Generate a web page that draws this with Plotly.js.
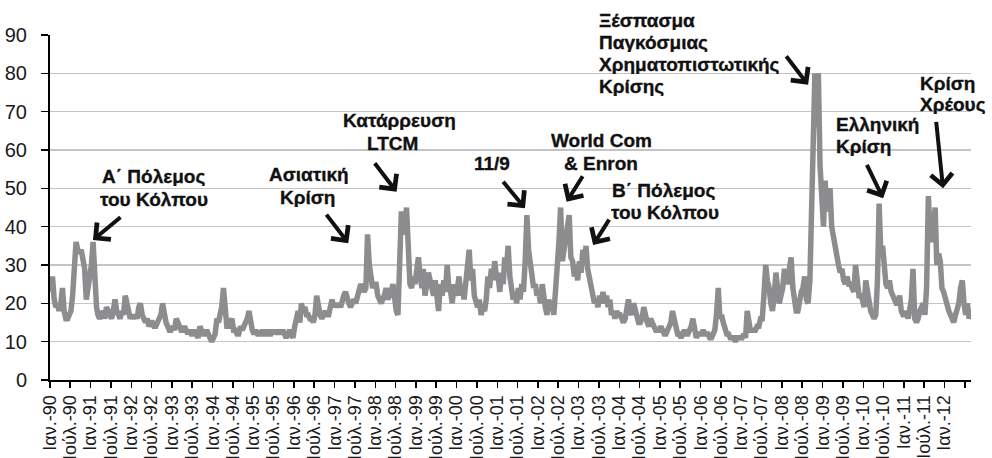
<!DOCTYPE html>
<html>
<head>
<meta charset="utf-8">
<script src="https://cdn.plot.ly/plotly-3.0.1.min.js"></script>
<style>
html,body{margin:0;padding:0;background:#fff;}
#chart{width:992px;height:458px;}
#chart .annotation-text{stroke:#111;stroke-width:0.35px;}
</style>
</head>
<body>
<div id="chart"></div>
<script>
// Semi-monthly readings (approx. 8th and 23rd of each month)
const vix1990 = [23, 27, 21, 19, 20, 18, 20, 24, 18, 16, 16, 17, 18, 22, 33, 36, 34, 33, 34, 31, 29, 21, 24, 26];
const vix1991 = [30, 36, 24, 19, 17, 16, 17, 18, 16, 19, 18, 17, 16, 18, 21, 18, 17, 16, 18, 17, 22, 20, 17, 16];
const vix1992 = [17, 16, 17, 16, 19, 20, 17, 16, 15, 16, 14, 15, 15, 14, 14, 15, 16, 17, 20, 17, 15, 14, 13, 13];
const vix1993 = [14, 13, 16, 15, 14, 13, 13, 14, 13, 12, 13, 12, 12, 13, 12, 11, 14, 13, 12, 12, 13, 12, 11, 10];
const vix1994 = [11, 12, 16, 15, 17, 19, 24, 17, 14, 14, 15, 16, 13, 13, 12, 12, 14, 13, 14, 15, 16, 18, 15, 13];
const vix1995 = [12, 13, 12, 12, 12, 13, 12, 12, 13, 12, 12, 13, 12, 13, 12, 13, 12, 13, 12, 11, 12, 13, 12, 11];
const vix1996 = [14, 16, 18, 15, 20, 18, 19, 17, 17, 16, 16, 15, 17, 22, 18, 17, 16, 17, 18, 17, 17, 19, 21, 19];
const vix1997 = [20, 19, 20, 19, 21, 22, 23, 21, 20, 19, 20, 21, 20, 22, 24, 25, 24, 23, 24, 38, 30, 27, 24, 25];
const vix1998 = [25, 22, 21, 20, 21, 22, 24, 21, 22, 23, 25, 21, 18, 17, 30, 44, 38, 40, 45, 30, 25, 24, 27, 25];
const vix1999 = [28, 32, 27, 24, 29, 22, 25, 28, 26, 23, 22, 26, 20, 18, 25, 22, 26, 23, 30, 24, 23, 20, 25, 22];
const vix2000 = [24, 27, 22, 25, 21, 25, 28, 34, 26, 29, 22, 20, 19, 21, 17, 19, 18, 21, 27, 24, 29, 26, 31, 27];
const vix2001 = [27, 23, 28, 25, 32, 29, 35, 27, 24, 21, 23, 20, 24, 21, 25, 23, 31, 43, 34, 30, 28, 24, 25, 22];
const vix2002 = [23, 20, 25, 21, 19, 17, 21, 19, 20, 17, 23, 28, 36, 45, 31, 34, 38, 41, 43, 32, 31, 27, 30, 26];
const vix2003 = [31, 28, 34, 30, 35, 29, 27, 24, 23, 20, 21, 19, 22, 20, 23, 20, 22, 19, 21, 17, 18, 16, 18, 17];
const vix2004 = [17, 16, 15, 16, 18, 21, 18, 17, 20, 18, 16, 15, 15, 16, 19, 16, 15, 14, 16, 15, 14, 13, 13, 13];
const vix2005 = [14, 13, 12, 12, 13, 14, 15, 18, 15, 14, 12, 12, 11, 12, 13, 12, 12, 13, 14, 16, 12, 11, 12, 12];
const vix2006 = [12, 13, 12, 12, 12, 11, 11, 12, 13, 17, 24, 16, 17, 15, 13, 12, 12, 11, 11, 11, 10, 11, 11, 11];
const vix2007 = [11, 12, 11, 18, 15, 13, 13, 13, 13, 14, 14, 16, 16, 22, 30, 26, 24, 20, 18, 22, 28, 24, 20, 22];
const vix2008 = [24, 29, 26, 25, 29, 32, 24, 21, 18, 18, 22, 23, 24, 27, 21, 20, 26, 46, 70, 80, 66, 80, 56, 45];
const vix2009 = [40, 52, 44, 48, 50, 40, 37, 36, 32, 30, 28, 29, 26, 25, 27, 25, 25, 24, 23, 30, 24, 22, 22, 21];
const vix2010 = [19, 26, 23, 20, 18, 17, 16, 17, 26, 46, 32, 35, 30, 25, 24, 26, 23, 22, 21, 20, 20, 22, 18, 17];
const vix2011 = [17, 18, 16, 20, 21, 29, 16, 15, 16, 18, 19, 20, 17, 24, 48, 38, 36, 41, 45, 30, 33, 31, 24, 23];
const vix2012 = [21, 19, 18, 17, 16, 15, 17, 19, 20, 24, 26, 20, 17, 20, 16, 18];

const seriesYears = [1990,1991,1992,1993,1994,1995,1996,1997,1998,1999,2000,2001,2002,2003,2004,2005,2006,2007,2008,2009,2010,2011,2012];
const seriesValues = [vix1990,vix1991,vix1992,vix1993,vix1994,vix1995,vix1996,vix1997,vix1998,vix1999,vix2000,vix2001,vix2002,vix2003,vix2004,vix2005,vix2006,vix2007,vix2008,vix2009,vix2010,vix2011,vix2012];

const tickLabels = ['Ιαν.-90','Ιούλ.-90','Ιαν.-91','Ιούλ.-91','Ιαν.-92','Ιούλ.-92','Ιαν.-93','Ιούλ.-93',
  'Ιαν.-94','Ιούλ.-94','Ιαν.-95','Ιούλ.-95','Ιαν.-96','Ιούλ.-96','Ιαν.-97','Ιούλ.-97','Ιαν.-98','Ιούλ.-98',
  'Ιαν.-99','Ιούλ.-99','Ιαν.-00','Ιούλ.-00','Ιαν.-01','Ιούλ.-01','Ιαν.-02','Ιούλ.-02','Ιαν.-03','Ιούλ.-03',
  'Ιαν.-04','Ιούλ.-04','Ιαν.-05','Ιούλ.-05','Ιαν.-06','Ιούλ.-06','Ιαν.-07','Ιούλ.-07','Ιαν.-08','Ιούλ.-08',
  'Ιαν.-09','Ιούλ.-09','Ιαν.-10','Ιούλ.-10','Ιαν.-11','Ιούλ.-11','Ιαν.-12',''];

const pad = n => (n < 10 ? '0' : '') + n;
const xs = [], ys = [];
seriesYears.forEach((yr, k) => {
  seriesValues[k].forEach((v, i) => {
    xs.push(yr + '-' + pad(Math.floor(i / 2) + 1) + '-' + (i % 2 ? '23' : '08'));
    ys.push(v);
  });
});
const tickVals = [];
seriesYears.forEach(yr => { tickVals.push(yr + '-01-01'); tickVals.push(yr + '-07-01'); });

const FONT = 'Liberation Sans, Arial, Helvetica, sans-serif';
const txt = (text, x, y, anchor) => ({
  text: text, xref: 'paper', yref: 'paper', x: x, y: y, showarrow: false,
  xanchor: anchor || 'center', yanchor: 'middle', align: anchor || 'center',
  height: 20, valign: 'middle',
  font: {family: FONT, size: 19, color: '#111', weight: 'bold'}
});
const arr = (x, y, ax, ay) => ({
  text: '', xref: 'x', yref: 'y', x: x, y: y, ax: ax, ay: ay, showarrow: true,
  arrowhead: 4, arrowsize: 1.05, arrowwidth: 4, arrowcolor: '#111', standoff: 0
});

const annotations = [
  txt('<b>Α΄ Πόλεμος</b>', 0.1129, 0.5913), txt('<b>του Κόλπου</b>', 0.1129, 0.5246),
  arr('1991-01-22', 36.5, 29, -24),
  txt('<b>Ασιατική</b>', 0.2812, 0.5971), txt('<b>Κρίση</b>', 0.2801, 0.5304),
  arr('1997-05-03', 35.7, -23, -30),
  txt('<b>Κατάρρευση</b>', 0.3800, 0.7536), txt('<b>LTCM</b>', 0.3720, 0.6870),
  arr('1998-07-11', 49.1, -23, -30),
  txt('<b>11/9</b>', 0.4799, 0.6290),
  arr('2001-09-06', 44.8, -23, -28),
  txt('<b>World Com</b>', 0.5993, 0.6957), txt('<b>&amp; Enron</b>', 0.5982, 0.6290),
  arr('2002-09-15', 46.5, 17, -27),
  txt('<b>Β΄ Πόλεμος</b>', 0.6656, 0.5507), txt('<b>του Κόλπου</b>', 0.6678, 0.4870),
  arr('2003-05-11', 35.2, 17, -27),
  txt('<b>Ξέσπασμα</b>', 0.5939, 1.0435, 'left'), txt('<b>Παγκόσμιας</b>', 0.5939, 0.9797, 'left'),
  txt('<b>Χρηματοπιστωτικής</b>', 0.5939, 0.9159, 'left'), txt('<b>Κρίσης</b>', 0.5939, 0.8522, 'left'),
  arr('2008-08-23', 77, -23, -30),
  txt('<b>Ελληνική</b>', 0.8512, 0.7420, 'left'), txt('<b>Κρίση</b>', 0.8512, 0.6783, 'left'),
  arr('2010-06-28', 47.4, -17, -35),
  txt('<b>Κρίση</b>', 0.9425, 0.8609, 'left'), txt('<b>Χρέους</b>', 0.9425, 0.8000, 'left'),
  arr('2011-12-18', 50, -7, -68)
];

const trace = {
  x: xs, y: ys, type: 'scatter', mode: 'lines',
  line: {color: '#8d8d8f', width: 5.5, shape: 'linear'},
  hoverinfo: 'skip'
};

const layout = {
  width: 992, height: 458,
  margin: {l: 50, r: 21, t: 35, b: 78, pad: 0},
  paper_bgcolor: '#fff', plot_bgcolor: '#fff',
  font: {family: FONT, color: '#1a1a1a'},
  showlegend: false,
  xaxis: {
    type: 'date', range: ['1990-01-01', '2012-08-25'],
    tickmode: 'array', tickvals: tickVals, ticktext: tickLabels,
    tickangle: -90, tickfont: {family: FONT, size: 18, color: '#1a1a1a'},
    showline: true, linecolor: '#000', linewidth: 2,
    ticks: 'outside', ticklen: 6, tickwidth: 1.5, tickcolor: '#000',
    showgrid: false, zeroline: false, automargin: false, fixedrange: true
  },
  yaxis: {
    range: [0, 90], tickmode: 'linear', tick0: 0, dtick: 10,
    tickfont: {family: FONT, size: 20, color: '#1a1a1a'},
    showgrid: true, gridcolor: '#c4c4c4', gridwidth: 1.5,
    showline: true, linecolor: '#000', linewidth: 2,
    ticks: 'outside', ticklen: 7, tickwidth: 1.5, tickcolor: '#000',
    ticklabelstandoff: 10,
    zeroline: false, automargin: false, fixedrange: true
  },
  annotations: annotations
};

Plotly.newPlot('chart', [trace], layout, {staticPlot: true, displayModeBar: false});
</script>
</body>
</html>
